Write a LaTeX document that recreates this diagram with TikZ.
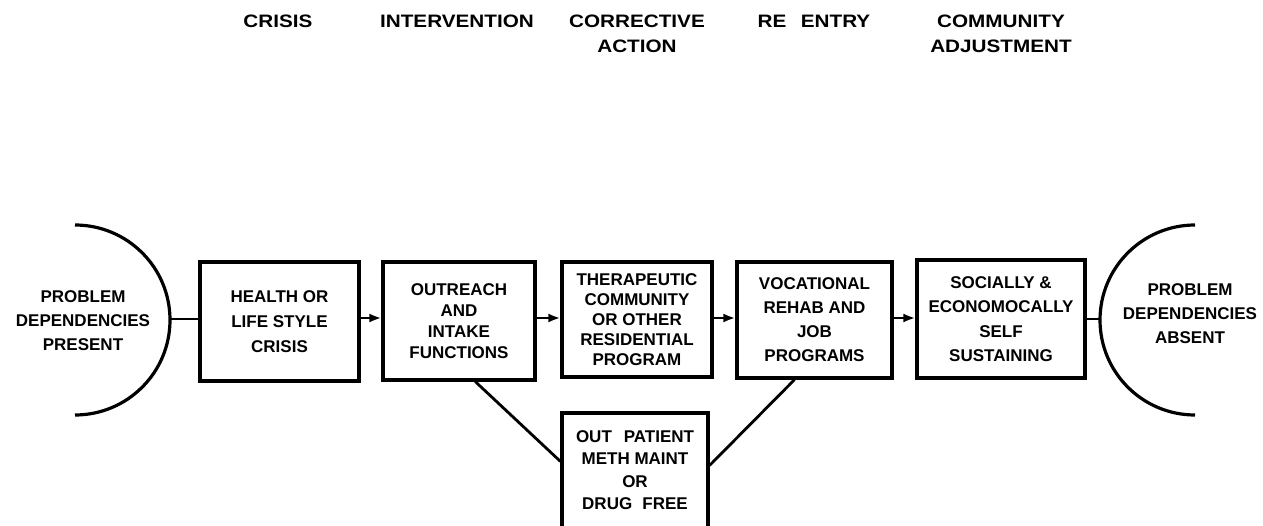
\documentclass[tikz,border=0pt]{standalone}
\usepackage{fontspec}
\setmainfont{Liberation Sans}
\newfontfamily\widefont{Liberation Sans}[FakeStretch=1.15]
\usetikzlibrary{arrows.meta,calc}

\begin{document}
\begin{tikzpicture}[x=1pt,y=-1pt,
  heading/.style={inner sep=0pt,anchor=north,align=center,
    font=\widefont\bfseries\fontsize{18}{25}\selectfont},
  stagebox/.style={draw,line width=3.2pt,inner sep=0pt,align=center,
    font=\bfseries\fontsize{17}{24}\selectfont},
  endtext/.style={inner sep=0pt,align=center,
    font=\bfseries\fontsize{17}{24}\selectfont},
  endarc/.style={line width=3.2pt},
  link/.style={line width=2.8pt},
  flow/.style={line width=2.8pt,-{Latex[length=12pt,width=9pt]}}]

% page
\fill[white] (0,0) rectangle (1263,526);
\useasboundingbox (0,0) rectangle (1263,526);
\clip (0,0) rectangle (1263,526);

% stage headings
\node[heading] (h1) at (278,15) {CRISIS};
\node[heading] (h2) at (457,15) {INTERVENTION};
\node[heading] (h3) at (637,15) {CORRECTIVE\\ACTION};
\node[heading] (h4) at (814,15) {RE\hspace{0.8em}ENTRY};
\node[heading] (h5) at (1001,15) {COMMUNITY\\ADJUSTMENT};

% end states
\draw[endarc] (75,225) arc[start angle=-90,end angle=90,radius=95];
\coordinate (la) at (170,319);
\node[endtext] (lt) at (83,321) {PROBLEM\\DEPENDENCIES\\PRESENT};

\draw[endarc] (1195,225) arc[start angle=-90,end angle=-270,radius=95];
\coordinate (ra) at (1100,319);
\node[endtext] (rt) at (1190,314) {PROBLEM\\DEPENDENCIES\\ABSENT};

% stages
\node[stagebox,minimum width=159pt,minimum height=119pt,
  font=\bfseries\fontsize{17}{25}\selectfont] (b1) at (279.5,321.5)
  {HEALTH OR\\LIFE STYLE\\CRISIS};
\node[stagebox,minimum width=152pt,minimum height=118pt,
  font=\bfseries\fontsize{17}{21}\selectfont] (b2) at (459,321)
  {OUTREACH\\AND\\INTAKE\\FUNCTIONS};
\node[stagebox,minimum width=150pt,minimum height=115pt,
  font=\bfseries\fontsize{17}{20}\selectfont] (b3) at (637,319.5)
  {THERAPEUTIC\\COMMUNITY\\OR OTHER\\RESIDENTIAL\\PROGRAM};
\node[stagebox,minimum width=155pt,minimum height=116pt] (b4) at (814.5,320)
  {VOCATIONAL\\REHAB AND\\JOB\\PROGRAMS};
\node[stagebox,minimum width=168pt,minimum height=118pt,
  font=\bfseries\fontsize{17}{24.5}\selectfont] (b5) at (1001,319)
  {SOCIALLY \&\\ECONOMOCALLY\\SELF\\SUSTAINING};

% out-patient branch (runs off the lower edge)
\node[stagebox,minimum width=146pt,minimum height=147pt] (b6) at (635,486.5) {};
\node[endtext,anchor=north,font=\bfseries\fontsize{17}{22.3}\selectfont]
  (b6t) at ($(b6.north)+(0,19)$)
  {OUT\hspace{0.7em}PATIENT\\METH MAINT\\OR\\DRUG\hspace{0.6em}FREE};

% main flow
\coordinate (row) at (0,318);
\draw[link] (la) -- (b1.west |- la);
\draw[flow] (b1.east |- row) -- (b2.west |- row);
\draw[flow] (b2.east |- row) -- (b3.west |- row);
\draw[flow] (b3.east |- row) -- (b4.west |- row);
\draw[flow] (b4.east |- row) -- (b5.west |- row);
\draw[link] (b5.east |- ra) -- (ra);

% branch links
\draw[link] ($(b2.south west)!0.605!(b2.south east)$) -- ($(b6.north west)+(0,50)$);
\draw[link] ($(b4.south west)!0.374!(b4.south east)$) -- ($(b6.north east)+(0,54)$);
\end{tikzpicture}
\end{document}
